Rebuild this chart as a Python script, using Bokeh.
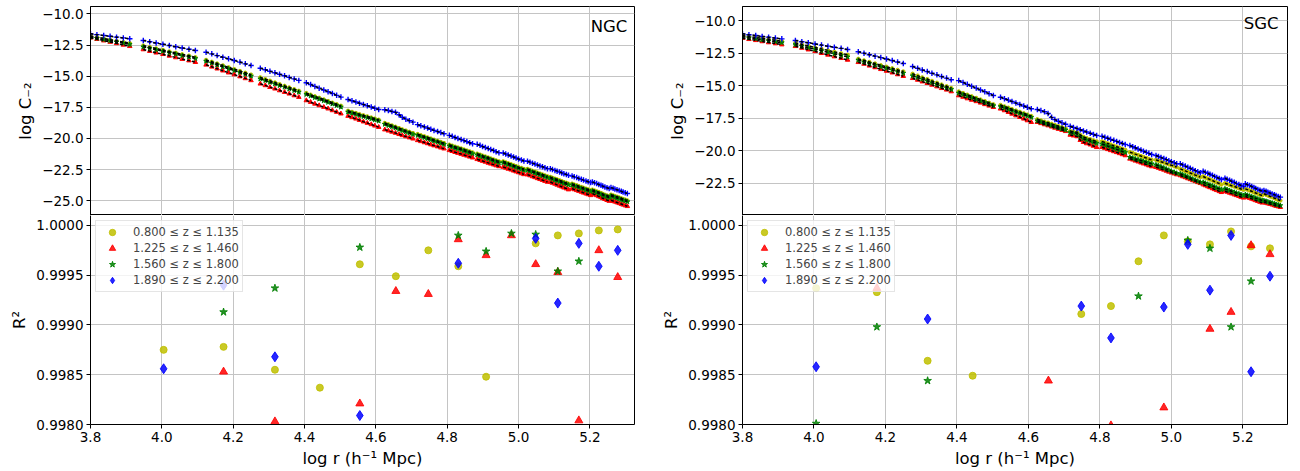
import numpy as np
from bokeh.plotting import figure
from bokeh.models import Range1d, FixedTicker, CustomJSTickFormatter, Label, LinearAxis
from bokeh.layouts import row, column
from bokeh.embed import file_html
from bokeh.resources import INLINE

nan = float("nan")

# ---------------- data ----------------
z_labels = ["0.800 \u2264 z \u2264 1.135", "1.225 \u2264 z \u2264 1.460",
            "1.560 \u2264 z \u2264 1.800", "1.890 \u2264 z \u2264 2.200"]
x_ticks = [3.8, 4.0, 4.2, 4.4, 4.6, 4.8, 5.0, 5.2]
ngc_c2_ticks = [-25.0, -22.5, -20.0, -17.5, -15.0, -12.5, -10.0]
sgc_c2_ticks = [-22.5, -20.0, -17.5, -15.0, -12.5, -10.0]
r2_ticks = [0.998, 0.9985, 0.999, 0.9995, 1.0]

# log r of the points in each r bin (top panels)
logr_bins = [
    [3.800, 3.818, 3.837, 3.855, 3.873, 3.892, 3.910],
    [3.948, 3.966, 3.984, 4.003, 4.021, 4.039, 4.057, 4.076, 4.094],
    [4.124, 4.140, 4.155, 4.171, 4.187, 4.203, 4.219, 4.234, 4.250],
    [4.276, 4.290, 4.303, 4.317, 4.330, 4.344, 4.357, 4.371, 4.384],
    [4.405, 4.417, 4.429, 4.441, 4.454, 4.466, 4.478, 4.490, 4.502],
    [4.522, 4.533, 4.544, 4.554, 4.565, 4.576, 4.587, 4.597, 4.608],
    [4.625, 4.635, 4.645, 4.655, 4.665, 4.674, 4.684, 4.694, 4.704],
    [4.717, 4.726, 4.736, 4.745, 4.754, 4.763, 4.773, 4.782, 4.791],
    [4.806, 4.814, 4.822, 4.830, 4.839, 4.847, 4.855, 4.863, 4.871],
    [4.884, 4.892, 4.899, 4.907, 4.915, 4.922, 4.930, 4.937, 4.945],
    [4.957, 4.964, 4.971, 4.979, 4.986, 4.993, 5.000, 5.008, 5.015],
    [5.025, 5.032, 5.039, 5.046, 5.053, 5.060, 5.067, 5.074, 5.081],
    [5.089, 5.095, 5.102, 5.108, 5.115, 5.121, 5.127, 5.134, 5.140],
    [5.150, 5.156, 5.163, 5.169, 5.176, 5.182, 5.189, 5.195, 5.202],
    [5.207, 5.213, 5.219, 5.225, 5.231, 5.236, 5.242, 5.248, 5.254],
    [5.259, 5.265, 5.270, 5.276, 5.282, 5.288, 5.293, 5.299, 5.305],
]

# NGC log C_-2
ngc_c2_z1 = [
    [-11.78, -11.88, -11.97, -12.07, -12.16, -12.26, -12.35],
    [-12.55, -12.67, -12.78, -12.90, -13.02, -13.13, -13.25, -13.36, -13.48],
    [-13.70, -13.85, -13.99, -14.14, -14.29, -14.44, -14.59, -14.73, -14.88],
    [-15.10, -15.24, -15.37, -15.51, -15.64, -15.78, -15.91, -16.05, -16.18],
    [-16.36, -16.49, -16.62, -16.74, -16.87, -17.00, -17.13, -17.25, -17.38],
    [-17.78, -17.87, -17.96, -18.05, -18.14, -18.23, -18.32, -18.41, -18.50],
    [-18.76, -18.86, -18.96, -19.06, -19.17, -19.27, -19.37, -19.47, -19.57],
    [-19.65, -19.74, -19.83, -19.92, -20.01, -20.10, -20.19, -20.28, -20.37],
    [-20.50, -20.58, -20.66, -20.73, -20.81, -20.89, -20.97, -21.04, -21.12],
    [-21.22, -21.30, -21.38, -21.45, -21.53, -21.61, -21.69, -21.76, -21.84],
    [-21.84, -21.92, -21.99, -22.07, -22.15, -22.22, -22.30, -22.37, -22.45],
    [-22.45, -22.52, -22.60, -22.67, -22.75, -22.82, -22.89, -22.97, -23.04],
    [-23.09, -23.16, -23.23, -23.29, -23.36, -23.43, -23.50, -23.56, -23.63],
    [-23.63, -23.70, -23.76, -23.83, -23.90, -23.96, -24.03, -24.09, -24.16],
    [-24.11, -24.18, -24.25, -24.31, -24.38, -24.45, -24.52, -24.58, -24.65],
    [-24.51, -24.57, -24.63, -24.68, -24.74, -24.80, -24.86, -24.91, -24.97],
]
ngc_c2_z2 = [
    [-11.92, -12.03, -12.15, -12.26, -12.37, -12.49, -12.60],
    [-12.86, -12.99, -13.12, -13.24, -13.37, -13.50, -13.63, -13.75, -13.88],
    [-14.09, -14.25, -14.40, -14.56, -14.72, -14.87, -15.03, -15.18, -15.34],
    [-15.61, -15.74, -15.88, -16.01, -16.15, -16.28, -16.41, -16.55, -16.68],
    [-16.95, -17.08, -17.22, -17.35, -17.48, -17.61, -17.75, -17.88, -18.01],
    [-18.20, -18.31, -18.42, -18.53, -18.65, -18.76, -18.87, -18.98, -19.09],
    [-19.29, -19.38, -19.47, -19.56, -19.66, -19.75, -19.84, -19.93, -20.02],
    [-20.15, -20.23, -20.32, -20.40, -20.49, -20.57, -20.65, -20.74, -20.82],
    [-20.95, -21.02, -21.10, -21.17, -21.25, -21.32, -21.39, -21.47, -21.54],
    [-21.67, -21.74, -21.81, -21.88, -21.96, -22.03, -22.10, -22.17, -22.24],
    [-22.29, -22.36, -22.44, -22.51, -22.59, -22.66, -22.73, -22.81, -22.88],
    [-22.90, -22.97, -23.05, -23.12, -23.20, -23.27, -23.34, -23.42, -23.49],
    [-23.49, -23.57, -23.64, -23.72, -23.80, -23.87, -23.95, -24.02, -24.10],
    [-24.02, -24.09, -24.16, -24.22, -24.29, -24.36, -24.43, -24.49, -24.56],
    [-24.42, -24.50, -24.57, -24.65, -24.72, -24.80, -24.87, -24.95, -25.02],
    [-24.96, -25.02, -25.08, -25.14, -25.20, -25.26, -25.32, -25.38, -25.44],
]
ngc_c2_z3 = [
    [-11.86, -11.96, -12.06, -12.15, -12.25, -12.35, -12.45],
    [-12.65, -12.77, -12.88, -13.00, -13.12, -13.23, -13.35, -13.46, -13.58],
    [-13.80, -13.95, -14.10, -14.25, -14.40, -14.55, -14.70, -14.85, -15.00],
    [-15.22, -15.35, -15.49, -15.62, -15.75, -15.88, -16.02, -16.15, -16.28],
    [-16.46, -16.59, -16.72, -16.84, -16.97, -17.10, -17.23, -17.35, -17.48],
    [-17.88, -17.97, -18.06, -18.15, -18.24, -18.33, -18.42, -18.51, -18.60],
    [-18.86, -18.96, -19.06, -19.16, -19.27, -19.37, -19.47, -19.57, -19.67],
    [-19.75, -19.84, -19.93, -20.02, -20.11, -20.20, -20.29, -20.38, -20.47],
    [-20.60, -20.68, -20.76, -20.83, -20.91, -20.99, -21.07, -21.14, -21.22],
    [-21.32, -21.40, -21.48, -21.55, -21.63, -21.71, -21.79, -21.86, -21.94],
    [-21.94, -22.02, -22.09, -22.17, -22.25, -22.32, -22.40, -22.47, -22.55],
    [-22.55, -22.62, -22.70, -22.77, -22.85, -22.92, -22.99, -23.07, -23.14],
    [-23.19, -23.26, -23.33, -23.39, -23.46, -23.53, -23.60, -23.66, -23.73],
    [-23.73, -23.80, -23.86, -23.93, -24.00, -24.06, -24.13, -24.19, -24.26],
    [-24.21, -24.28, -24.35, -24.41, -24.48, -24.55, -24.62, -24.68, -24.75],
    [-24.61, -24.67, -24.73, -24.78, -24.84, -24.90, -24.96, -25.01, -25.07],
]
ngc_c2_z4 = [
    [-11.60, -11.67, -11.73, -11.80, -11.87, -11.93, -12.00],
    [-12.14, -12.24, -12.34, -12.44, -12.54, -12.64, -12.74, -12.84, -12.94],
    [-13.08, -13.21, -13.35, -13.48, -13.61, -13.74, -13.87, -14.01, -14.14],
    [-14.36, -14.48, -14.61, -14.73, -14.85, -14.97, -15.10, -15.22, -15.34],
    [-15.53, -15.67, -15.82, -15.96, -16.11, -16.25, -16.39, -16.54, -16.68],
    [-16.87, -16.97, -17.07, -17.17, -17.27, -17.37, -17.47, -17.57, -17.67],
    [-17.69, -17.76, -17.83, -17.90, -18.10, -18.30, -18.45, -18.58, -18.69],
    [-18.89, -18.98, -19.07, -19.16, -19.26, -19.35, -19.44, -19.53, -19.62],
    [-19.75, -19.83, -19.92, -20.00, -20.09, -20.17, -20.25, -20.34, -20.42],
    [-20.47, -20.55, -20.64, -20.72, -20.81, -20.89, -20.97, -21.06, -21.14],
    [-21.17, -21.25, -21.33, -21.41, -21.49, -21.57, -21.65, -21.73, -21.81],
    [-21.83, -21.90, -21.98, -22.05, -22.13, -22.20, -22.27, -22.35, -22.42],
    [-22.42, -22.49, -22.56, -22.62, -22.69, -22.76, -22.83, -22.89, -22.96],
    [-23.01, -23.08, -23.14, -23.21, -23.28, -23.34, -23.41, -23.47, -23.54],
    [-23.49, -23.56, -23.62, -23.69, -23.76, -23.82, -23.89, -23.95, -24.02],
    [-23.94, -24.00, -24.06, -24.12, -24.18, -24.24, -24.30, -24.36, -24.42],
]

# SGC log C_-2
sgc_c2_z1 = [
    [-11.15, -11.22, -11.30, -11.37, -11.44, -11.52, -11.59],
    [-11.72, -11.84, -11.95, -12.07, -12.18, -12.30, -12.41, -12.53, -12.64],
    [-12.95, -13.07, -13.19, -13.31, -13.44, -13.56, -13.68, -13.80, -13.92],
    [-14.10, -14.24, -14.38, -14.51, -14.65, -14.79, -14.93, -15.06, -15.20],
    [-15.46, -15.58, -15.71, -15.83, -15.96, -16.08, -16.20, -16.33, -16.45],
    [-16.50, -16.61, -16.71, -16.82, -16.93, -17.03, -17.14, -17.24, -17.35],
    [-17.60, -17.69, -17.78, -17.86, -17.95, -18.04, -18.13, -18.21, -18.30],
    [-18.50, -18.55, -18.60, -18.80, -18.95, -19.05, -19.13, -19.22, -19.30],
    [-19.30, -19.38, -19.46, -19.54, -19.63, -19.71, -19.79, -19.87, -19.95],
    [-20.13, -20.20, -20.28, -20.35, -20.43, -20.50, -20.57, -20.65, -20.72],
    [-20.72, -20.79, -20.86, -20.93, -21.00, -21.07, -21.14, -21.21, -21.28],
    [-21.41, -21.49, -21.57, -21.65, -21.73, -21.81, -21.89, -21.97, -22.05],
    [-22.00, -22.08, -22.16, -22.23, -22.31, -22.39, -22.47, -22.54, -22.62],
    [-22.52, -22.58, -22.65, -22.71, -22.77, -22.83, -22.90, -22.96, -23.02],
    [-22.95, -23.01, -23.08, -23.14, -23.21, -23.27, -23.33, -23.40, -23.46],
    [-23.33, -23.40, -23.46, -23.53, -23.59, -23.66, -23.72, -23.79, -23.85],
]
sgc_c2_z2 = [
    [-11.36, -11.44, -11.52, -11.61, -11.69, -11.77, -11.85],
    [-11.98, -12.11, -12.24, -12.37, -12.51, -12.64, -12.77, -12.90, -13.03],
    [-13.21, -13.34, -13.48, -13.61, -13.75, -13.88, -14.01, -14.15, -14.28],
    [-14.44, -14.57, -14.70, -14.82, -14.95, -15.08, -15.21, -15.33, -15.46],
    [-15.77, -15.88, -16.00, -16.11, -16.22, -16.33, -16.45, -16.56, -16.67],
    [-16.79, -16.92, -17.05, -17.18, -17.31, -17.43, -17.56, -17.69, -17.82],
    [-17.82, -17.91, -18.00, -18.08, -18.17, -18.26, -18.35, -18.43, -18.52],
    [-18.80, -18.86, -18.92, -19.20, -19.36, -19.46, -19.55, -19.65, -19.75],
    [-19.75, -19.83, -19.91, -19.99, -20.07, -20.14, -20.22, -20.30, -20.38],
    [-20.64, -20.71, -20.79, -20.86, -20.94, -21.01, -21.08, -21.16, -21.23],
    [-21.28, -21.35, -21.42, -21.49, -21.57, -21.64, -21.71, -21.78, -21.85],
    [-21.92, -22.00, -22.07, -22.15, -22.22, -22.30, -22.37, -22.45, -22.52],
    [-22.62, -22.69, -22.77, -22.84, -22.92, -22.99, -23.06, -23.14, -23.21],
    [-23.13, -23.19, -23.26, -23.32, -23.39, -23.45, -23.51, -23.58, -23.64],
    [-23.54, -23.60, -23.66, -23.72, -23.78, -23.84, -23.90, -23.96, -24.02],
    [-23.98, -24.03, -24.08, -24.12, -24.17, -24.22, -24.27, -24.31, -24.36],
]
sgc_c2_z3 = [
    [-11.25, -11.33, -11.40, -11.48, -11.55, -11.63, -11.70],
    [-11.85, -11.97, -12.09, -12.20, -12.32, -12.44, -12.56, -12.68, -12.80],
    [-13.05, -13.18, -13.30, -13.43, -13.55, -13.68, -13.80, -13.93, -14.05],
    [-14.25, -14.38, -14.51, -14.64, -14.78, -14.91, -15.04, -15.17, -15.30],
    [-15.58, -15.70, -15.82, -15.94, -16.07, -16.19, -16.31, -16.43, -16.55],
    [-16.62, -16.72, -16.83, -16.93, -17.04, -17.14, -17.24, -17.35, -17.45],
    [-17.72, -17.81, -17.90, -17.98, -18.07, -18.16, -18.25, -18.33, -18.42],
    [-18.62, -18.67, -18.72, -18.95, -19.10, -19.20, -19.28, -19.37, -19.45],
    [-19.50, -19.58, -19.66, -19.74, -19.83, -19.91, -19.99, -20.07, -20.15],
    [-20.52, -20.58, -20.65, -20.71, -20.77, -20.83, -20.90, -20.96, -21.02],
    [-21.10, -21.18, -21.26, -21.34, -21.43, -21.51, -21.59, -21.67, -21.75],
    [-21.79, -21.87, -21.95, -22.03, -22.12, -22.20, -22.28, -22.36, -22.44],
    [-22.44, -22.51, -22.59, -22.66, -22.73, -22.80, -22.88, -22.95, -23.02],
    [-22.95, -23.01, -23.08, -23.14, -23.21, -23.27, -23.33, -23.40, -23.46],
    [-23.38, -23.44, -23.50, -23.56, -23.62, -23.67, -23.73, -23.79, -23.85],
    [-23.85, -23.90, -23.95, -23.99, -24.04, -24.09, -24.14, -24.18, -24.23],
]
sgc_c2_z4 = [
    [-11.02, -11.09, -11.15, -11.22, -11.28, -11.35, -11.41],
    [-11.54, -11.63, -11.71, -11.80, -11.89, -11.97, -12.06, -12.14, -12.23],
    [-12.40, -12.51, -12.63, -12.74, -12.85, -12.96, -13.08, -13.19, -13.30],
    [-13.54, -13.67, -13.80, -13.92, -14.05, -14.18, -14.31, -14.43, -14.56],
    [-14.62, -14.76, -14.91, -15.05, -15.20, -15.34, -15.48, -15.63, -15.77],
    [-15.90, -16.01, -16.12, -16.23, -16.35, -16.46, -16.57, -16.68, -16.79],
    [-16.85, -16.93, -17.02, -17.15, -17.45, -17.62, -17.75, -17.87, -17.98],
    [-18.13, -18.22, -18.31, -18.40, -18.49, -18.58, -18.67, -18.76, -18.85],
    [-18.90, -18.98, -19.06, -19.14, -19.22, -19.30, -19.38, -19.46, -19.54],
    [-19.62, -19.71, -19.79, -19.88, -19.97, -20.05, -20.14, -20.22, -20.31],
    [-20.38, -20.46, -20.54, -20.62, -20.70, -20.78, -20.86, -20.94, -21.02],
    [-21.02, -21.11, -21.20, -21.28, -21.37, -21.46, -21.55, -21.63, -21.72],
    [-21.59, -21.67, -21.75, -21.83, -21.91, -21.99, -22.07, -22.15, -22.23],
    [-22.13, -22.21, -22.29, -22.37, -22.45, -22.53, -22.61, -22.69, -22.77],
    [-22.56, -22.63, -22.70, -22.77, -22.85, -22.92, -22.99, -23.06, -23.13],
    [-23.08, -23.14, -23.21, -23.27, -23.34, -23.40, -23.46, -23.53, -23.59],
]

# R^2 of the fits (bottom panels)
ngc_r2_logr = [4.005, 4.173, 4.317, 4.443, 4.555, 4.656, 4.747, 4.831, 4.909, 4.980, 5.048, 5.110, 5.169, 5.225, 5.278]
ngc_r2_z1 = [0.99875, 0.99878, 0.99855, 0.99837, 0.99961, 0.99949, 0.99975, 0.99959, 0.99848, nan, 0.99982, 0.99990, 0.99992, 0.99995, 0.99996]
ngc_r2_z2 = [nan, 0.99853, 0.99803, nan, 0.99821, 0.99934, 0.99931, 0.99986, 0.99970, 0.99990, 0.99961, 0.99953, 0.99804, 0.99975, 0.99948]
ngc_r2_z3 = [nan, 0.99913, 0.99937, nan, 0.99978, nan, nan, 0.99990, 0.99974, 0.99992, 0.99991, 0.99954, 0.99964, nan, nan]
ngc_r2_z4 = [0.99856, 0.99940, 0.99868, nan, 0.99809, nan, nan, 0.99962, nan, nan, 0.99987, 0.99922, 0.99982, 0.99959, 0.99975]

sgc_r2_logr = [4.006, 4.176, 4.318, 4.444, 4.555, 4.656, 4.748, 4.831, 4.908, 4.979, 5.046, 5.108, 5.167, 5.223, 5.276]
sgc_r2_z1 = [0.99937, 0.99933, 0.99864, 0.99849, nan, nan, 0.99911, 0.99919, 0.99964, 0.99990, 0.99984, 0.99981, 0.99994, 0.99979, 0.99977]
sgc_r2_z2 = [nan, 0.99937, nan, nan, nan, 0.99844, nan, 0.99799, nan, 0.99817, nan, 0.99896, 0.99913, 0.99980, 0.99971]
sgc_r2_z3 = [0.99801, 0.99898, 0.99844, nan, nan, nan, nan, nan, 0.99929, nan, 0.99985, 0.99977, 0.99898, 0.99944, nan]
sgc_r2_z4 = [0.99858, nan, 0.99906, nan, nan, nan, 0.99919, 0.99887, nan, 0.99918, 0.99981, 0.99935, 0.99990, 0.99853, 0.99949]

# ---------------- styling ----------------
FONT = "DejaVu Sans"
COLORS = ["#bfbf00", "#ff0000", "#008000", "#0000ff"]
TOP_MARKERS = [("circle", 3.5), ("triangle", 4.5), ("star", 5), ("cross", 5.5)]
BOT_MARKERS = [("circle", 7), ("triangle", 8), ("star", 8), ("diamond", 10)]
X_RANGE = (3.8, 5.325)

fmt_x = CustomJSTickFormatter(code="return tick.toFixed(1);")
fmt_c2 = CustomJSTickFormatter(code="const s = Math.abs(tick).toFixed(1); return tick < 0 ? '\u2212' + s : s;")
fmt_r2 = CustomJSTickFormatter(code="return tick.toFixed(4);")


def style(p, yticks, yfmt, ylabel):
    p.outline_line_color = "black"
    p.outline_line_width = 1
    p.outline_line_alpha = 1
    p.background_fill_color = "white"
    p.border_fill_color = "white"
    p.grid.grid_line_color = "#c4c4c4"
    p.grid.grid_line_width = 1
    for ax in p.axis:
        ax.axis_line_color = "black"
        ax.major_tick_line_color = "black"
        ax.major_tick_out = 4
        ax.major_tick_in = 0
        ax.minor_tick_line_color = None
        ax.major_label_text_font = FONT
        ax.major_label_text_font_size = "13.5px"
        ax.major_label_text_color = "black"
        ax.axis_label_text_font = FONT
        ax.axis_label_text_font_size = "16.5px"
        ax.axis_label_text_font_style = "normal"
        ax.axis_label_text_color = "black"
        ax.major_label_standoff = 3
        ax.axis_label_standoff = 4
    p.xaxis.ticker = FixedTicker(ticks=x_ticks)
    p.xaxis.formatter = fmt_x
    p.xgrid.ticker = FixedTicker(ticks=x_ticks)
    p.yaxis.ticker = FixedTicker(ticks=yticks)
    p.ygrid.ticker = FixedTicker(ticks=yticks)
    p.yaxis.formatter = yfmt
    p.yaxis.axis_label = ylabel


def top_panel(xr, yr, series, yticks, name, name_xy, fw, bl, br):
    p = figure(x_range=xr, y_range=Range1d(*yr), frame_width=fw, frame_height=209,
               min_border_left=bl, min_border_right=br, min_border_top=6, min_border_bottom=0,
               output_backend="svg", toolbar_location=None)
    style(p, yticks, fmt_c2, "log C\u208b\u2082")
    p.xaxis.visible = False
    xs_flat = [x for g in logr_bins for x in g]
    for ys, color, (mk, sz) in zip(series, COLORS, TOP_MARKERS):
        ys_flat = [y for g in ys for y in g]
        if mk == "cross":
            p.scatter(xs_flat, ys_flat, marker=mk, size=sz, line_color=color, line_width=1.4)
        else:
            p.scatter(xs_flat, ys_flat, marker=mk, size=sz, fill_color=color, line_color=color)
    for ys in series:
        p.multi_line(logr_bins, ys, line_color="black", line_dash="3 2", line_width=1.5)
    p.add_layout(Label(x=name_xy[0], y=name_xy[1], text=name, text_align="right",
                       text_baseline="alphabetic", text_font=FONT, text_font_size="16.5px",
                       text_color="black"))
    return p


def bottom_panel(xr, logr, series, fw, bl, br):
    p = figure(x_range=xr, y_range=Range1d(0.998, 1.0001), frame_width=fw, frame_height=209,
               min_border_left=bl, min_border_right=br, min_border_top=0, min_border_bottom=0,
               output_backend="svg", toolbar_location=None)
    style(p, r2_ticks, fmt_r2, "R\u00b2")
    # the upper panel's bottom edge is the shared border; draw the right edge as a bare axis line
    p.outline_line_color = None
    right_edge = LinearAxis(ticker=FixedTicker(ticks=[]), axis_line_color="black",
                            major_tick_line_color=None, minor_tick_line_color=None,
                            major_label_text_font_size="0px", major_label_standoff=0)
    p.add_layout(right_edge, "right")
    p.xaxis.axis_label = "log r (h\u207b\u00b9 Mpc)"
    p.xaxis.axis_label_standoff = 4
    for vals, color, (mk, sz), lab in zip(series, COLORS, BOT_MARKERS, z_labels):
        p.scatter(np.array(logr, dtype=float), np.array(vals, dtype=float), marker=mk, size=sz,
                  fill_color=color, line_color=color, fill_alpha=0.85, line_alpha=0.85,
                  legend_label=lab)
    lg = p.legend[0]
    lg.location = "top_left"
    lg.margin = 5
    lg.padding = 3
    lg.spacing = 0
    lg.glyph_width = 26
    lg.glyph_height = 16
    lg.label_height = 16
    lg.label_standoff = 8
    lg.label_text_font = FONT
    lg.label_text_font_size = "11.5px"
    lg.border_line_color = "#cccccc"
    lg.border_line_width = 1
    lg.background_fill_alpha = 0.8
    return p


ngc_x = Range1d(*X_RANGE)
sgc_x = Range1d(*X_RANGE)

ngc_top = top_panel(ngc_x, (-26.18, -9.41), [ngc_c2_z1, ngc_c2_z2, ngc_c2_z3, ngc_c2_z4],
                    ngc_c2_ticks, "NGC", (5.305, -11.0), 544, 90, 12)
sgc_top = top_panel(sgc_x, (-25.0, -8.92), [sgc_c2_z1, sgc_c2_z2, sgc_c2_z3, sgc_c2_z4],
                    sgc_c2_ticks, "SGC", (5.30, -10.2), 545, 96, 5)
ngc_bot = bottom_panel(ngc_x, ngc_r2_logr, [ngc_r2_z1, ngc_r2_z2, ngc_r2_z3, ngc_r2_z4], 544, 90, 12)
sgc_bot = bottom_panel(sgc_x, sgc_r2_logr, [sgc_r2_z1, sgc_r2_z2, sgc_r2_z3, sgc_r2_z4], 545, 96, 5)

layout = row(column(ngc_top, ngc_bot), column(sgc_top, sgc_bot))

open("out.html", "w").write(file_html(layout, INLINE))
